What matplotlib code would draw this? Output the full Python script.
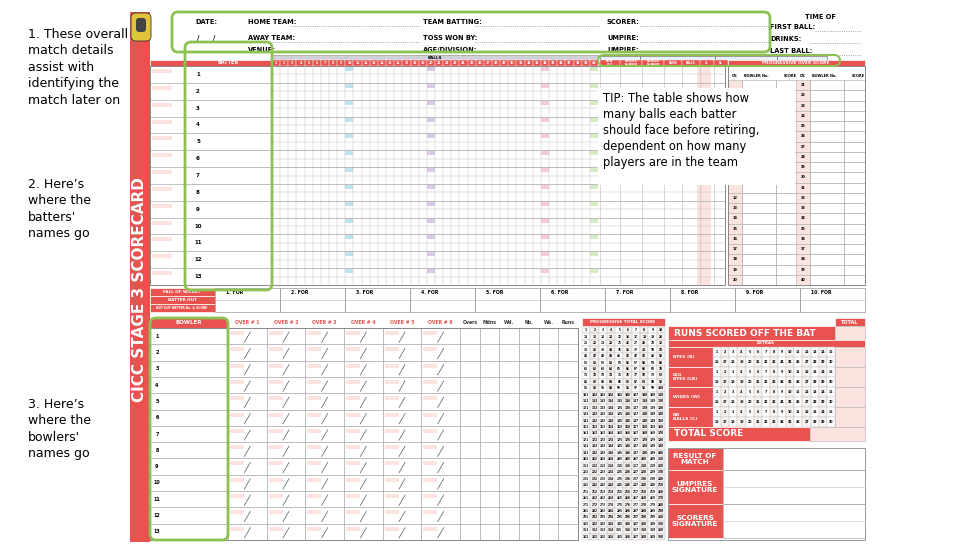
import matplotlib.pyplot as plt
from matplotlib.patches import Rectangle, FancyBboxPatch

RED = "#e8524f"
PINK = "#fbe3df"
GREEN = "#8cc152"
GRID = "#b8b8b8"

notes = ["1. These overall\nmatch details\nassist with\nidentifying the\nmatch later on",
         "2. Here\u2019s\nwhere the\nbatters'\nnames go",
         "3. Here\u2019s\nwhere the\nbowlers'\nnames go"]
note_y = [28, 178, 398]
batters = [str(i) for i in range(1, 14)]
bowlers = [str(i) for i in range(1, 14)]
balls = [str(i) for i in range(1, 41)]
ball_marks = {10: "#bfe3ef", 20: "#d9c8e6", 34: "#f6c9dc", 40: "#d6ecc4"}
bat_cols = ["HOW\nOUT", "FIELDER\nNUMBER", "BOWLER\nNUMBER", "RUNS", "BALLS", "4s", "6s"]
bowl_cols = ["OVER # 1", "OVER # 2", "OVER # 3", "OVER # 4", "OVER # 5", "OVER # 6"]
bowl_stats = ["Overs", "Mdns", "Wd.", "Nb.", "Wk.", "Runs"]
fow = ["1. FOR", "2. FOR", "3. FOR", "4. FOR", "5. FOR", "6. FOR", "7. FOR", "8. FOR", "9. FOR", "10. FOR"]
overs_left = [str(i) for i in range(1, 21)]
overs_right = [str(i) for i in range(21, 41)]
total_cells = [str(i) for i in range(1, 331)]
extras = ["BYES (B)", "LEG\nBYES (LB)", "WIDES (W)", "NO\nBALLS (C)"]
extra_nums = [str(i) for i in range(1, 31)]
result_rows = ["RESULT OF\nMATCH", "UMPIRES\nSIGNATURE", "SCORERS\nSIGNATURE"]
header_fields = [("DATE:", 195, 22), ("/      /", 197, 38), ("HOME TEAM:", 248, 22), ("AWAY TEAM:", 248, 38),
                 ("VENUE:", 248, 50), ("TEAM BATTING:", 423, 22), ("TOSS WON BY:", 423, 38),
                 ("AGE/DIVISION:", 423, 50), ("SCORER:", 607, 22), ("UMPIRE:", 607, 38), ("UMPIRE:", 607, 50),
                 ("TIME OF", 805, 17), ("FIRST BALL:", 770, 27), ("DRINKS:", 770, 39), ("LAST BALL:", 770, 51)]

fig = plt.figure(figsize=(9.79, 5.54), dpi=100)
ax = fig.add_axes([0, 0, 1, 1])
ax.set_xlim(0, 979)
ax.set_ylim(554, 0)
ax.axis("off")


def box(x, y, w, h, fc="none", ec=GRID, lw=0.5, z=1):
    ax.add_patch(Rectangle((x, y), w, h, facecolor=fc, edgecolor=ec, lw=lw, zorder=z))


def txt(x, y, s, size=3.5, color="black", ha="center", weight="bold", **kw):
    ax.text(x, y, s, fontsize=size, color=color, ha=ha, va="center", fontweight=weight, **kw)


# notes
for s, y in zip(notes, note_y):
    ax.text(28, y, s, fontsize=9, va="top", ha="left", linespacing=1.35)

# red side band + logo
box(130, 12, 20, 530, fc=RED, ec="none")
txt(140, 290, "CICC STAGE 3 SCORECARD", size=11, color="white", rotation=90)
ax.add_patch(FancyBboxPatch((131, 13), 20, 28, boxstyle="round,pad=0,rounding_size=5", fc="#e4c33c", ec="#333", lw=0.6, zorder=3))
ax.add_patch(FancyBboxPatch((136, 18), 10, 14, boxstyle="round,pad=0,rounding_size=3", fc="#444", ec="none", zorder=3))

# header
for s, x, y in header_fields:
    txt(x, y, s, size=4.8, ha="left")
for x0, x1, y in [(290, 420, 24), (250, 420, 40), (475, 600, 24), (475, 600, 40), (640, 770, 24),
                  (640, 770, 40), (815, 860, 29), (810, 860, 41), (815, 860, 53)]:
    ax.plot([x0, x1], [y + 2, y + 2], ls=":", color="#888", lw=0.6)

# batting grid
top, bot = 66, 285
rh = (bot - top) / 13
box(150, 60, 122, 6, fc=RED, ec="white")
txt(228, 63, "BATTER", color="white")
box(272, 55, 326, 6, fc="#d0d0d8", ec="#999")
txt(435, 58, "BALLS", size=3)
for x, w in [(600, 40), (640, 75), (715, 62), (777, 50)]:
    box(x, 56, w, 6, fc="#e8f0f8", ec="#555", lw=0.4)
bw = 326 / 40
for i, b in enumerate(balls):
    x = 272 + i * bw
    box(x, 60, bw, 6, fc=RED, ec="white", lw=0.3)
    txt(x + bw / 2, 63, b, size=2.3, color="white")
    if int(b) in ball_marks:
        for r in range(13):
            box(x, top + r * rh + 1, bw, 4, fc=ball_marks[int(b)], ec="none")
    ax.plot([x, x], [top, bot], color=GRID, lw=0.3)
cx = 600
widths = [20, 22, 22, 18, 18, 14, 14]
for c, w in zip(bat_cols, widths):
    box(cx, 60, w, 6, fc=RED, ec="white", lw=0.3)
    txt(cx + w / 2, 63, c, size=2, color="white")
    ax.plot([cx, cx], [top, bot], color=GRID, lw=0.4)
    cx += w
box(697, 66, 14, 219, fc=PINK, ec="none", z=0)
for r, b in enumerate(batters):
    y = top + r * rh
    box(150, y, 35, rh, fc="white", ec=GRID)
    box(152, y + 3, 20, 4, fc=PINK, ec="none")
    box(185, y, 87, rh)
    box(272, y, 453, rh)
    ax.plot([272, 725], [y + rh / 2, y + rh / 2], color=GRID, lw=0.3)
    txt(198, y + rh / 2, b, size=4)
box(150, top, 575, bot - top, ec="#888", lw=0.7)

# progressive over score
box(728, 60, 137, 6, fc=RED, ec="white")
txt(796, 63, "PROGRESSIVE OVER SCORE", color="white", size=3.2)
for x, lab in [(728, "OV."), (742, "BOWLER No."), (776, "SCORE"), (796, "OV."), (810, "BOWLER No."), (844, "SCORE")]:
    txt(x + 7 if lab == "OV." else x + 14, 76, lab, size=2.5)
orh = (285 - 80) / 20
for i, (a, b) in enumerate(zip(overs_left, overs_right)):
    y = 80 + i * orh
    for x0, lab in [(728, a), (796, b)]:
        box(x0, y, 14, orh, fc=PINK, ec=GRID)
        if not (x0 == 728 and y < 186):
            txt(x0 + 7, y + orh / 2, lab, size=2.5)
        box(x0 + 14, y, 34, orh)
        box(x0 + 48, y, 21, orh)
box(728, 66, 137, 219, ec="#888", lw=0.7)

# tip box
box(598, 88, 197, 97, fc="white", ec="none", z=4)
ax.text(603, 92, "TIP: The table shows how\nmany balls each batter\nshould face before retiring,\ndependent on how many\nplayers are in the team",
        fontsize=8.3, va="top", ha="left", zorder=5, linespacing=1.3)

# fall of wicket
box(150, 288, 65, 8, fc=RED, ec="white")
box(150, 296, 65, 8, fc=RED, ec="white")
box(150, 304, 65, 8, fc=RED, ec="white")
txt(182, 292, "FALL OF WICKET", color="white", size=3)
txt(182, 300, "BATTER OUT", color="white", size=3)
txt(182, 308, "NOT OUT BATTER No. & SCORE", color="white", size=2.2)
fw = (865 - 215) / 10
for i, f in enumerate(fow):
    box(215 + i * fw, 288, fw, 24, ec="#999")
    txt(226 + i * fw, 292, f, size=3.3, ha="left")
    ax.plot([215 + i * fw, 215 + (i + 1) * fw], [300, 300], color=GRID, lw=0.4)

# bowling
btop, bbot = 328, 540
brh = (bbot - btop) / 13
box(150, 318, 78, 10, fc=RED, ec="white")
txt(189, 323, "BOWLER", color="white", size=4)
ow = 232 / 6
for i, o in enumerate(bowl_cols):
    x = 228 + i * ow
    txt(x + ow / 2, 322, o, size=3.3, color=RED)
    for r in range(13):
        box(x, btop + r * brh, ow, brh)
        box(x + 2, btop + r * brh + 3, 14, 4, fc=PINK, ec="none")
        ax.plot([x + ow / 2 - 3, x + ow / 2 + 3], [btop + (r + 1) * brh - 2, btop + r * brh + 4], color="#555", lw=0.5)
sw = 118 / 6
for i, s in enumerate(bowl_stats):
    x = 460 + i * sw
    txt(x + sw / 2, 322, s, size=3.3, color="#333")
    for r in range(13):
        box(x, btop + r * brh, sw, brh)
for r, b in enumerate(bowlers):
    box(150, btop + r * brh, 78, brh)
    txt(157, btop + brh / 2 + r * brh, b, size=3.5)
box(150, btop, 428, bbot - btop, ec="#888", lw=0.7)

# progressive total score
box(582, 318, 83, 8, fc=RED, ec="white")
txt(623, 322, "PROGRESSIVE TOTAL SCORE", color="white", size=3)
tw, th = 83 / 10, (540 - 327) / 33
for k, s in enumerate(total_cells):
    r, c = divmod(k, 10)
    x, y = 582 + c * tw, 327 + r * th
    box(x, y, tw, th, fc="#f6f0ee" if c % 2 else "white", ec="#bbb", lw=0.3)
    txt(x + tw / 2, y + th / 2, s, size=2.1)

# runs scored panel
box(835, 318, 30, 8, fc=RED, ec="white")
txt(850, 322, "TOTAL", color="white", size=3.5)
box(668, 326, 167, 14, fc=RED, ec="white")
txt(674, 333, "RUNS SCORED OFF THE BAT", color="white", size=6.5, ha="left")
box(835, 326, 30, 14, fc=PINK, ec="#bbb")
box(668, 340, 197, 7, fc=RED, ec="white")
txt(766, 343.5, "EXTRAS", color="white", size=3)
eh = 20
nw = 122 / 15
for i, e in enumerate(extras):
    y = 347 + i * eh
    box(668, y, 45, eh, fc=RED, ec="white")
    txt(673, y + eh / 2, e, size=3.2, color="white", ha="left")
    box(835, y, 30, eh, fc=PINK, ec="#bbb")
    for k, n in enumerate(extra_nums):
        r, c = divmod(k, 15)
        x, yy = 713 + c * nw, y + r * eh / 2
        box(x, yy, nw, eh / 2, fc="white" if c % 2 == 0 else "#f7f2f0", ec="#bbb", lw=0.3)
        txt(x + nw / 2, yy + eh / 4, n, size=2.3)
box(668, 427, 142, 14, fc=RED, ec="white")
txt(674, 434, "TOTAL SCORE", color="white", size=6.5, ha="left")
box(810, 427, 55, 14, fc=PINK, ec="#bbb")

# result section
rh2 = [22, 34, 34]
y = 448
for lab, h in zip(result_rows, rh2):
    box(668, y, 55, h, fc=RED, ec="white")
    txt(695, y + h / 2, lab, size=5.2, color="white")
    box(723, y, 142, h, ec="#aaa")
    if h > 30:
        ax.plot([723, 865], [y + h / 2, y + h / 2], color="#ccc", lw=0.5)
    y += h
box(668, 448, 197, 92, ec="#999", lw=0.7)

# green highlights
for x, y, w, h, lw in [(172, 12, 598, 40, 2), (185, 42, 87, 248, 2), (150, 318, 78, 222, 2), (598, 55, 242, 11, 1.5)]:
    ax.add_patch(FancyBboxPatch((x, y), w, h, boxstyle="round,pad=0,rounding_size=6", fc="none", ec=GREEN, lw=lw, zorder=6))

fig.savefig("out.png", dpi=100)
